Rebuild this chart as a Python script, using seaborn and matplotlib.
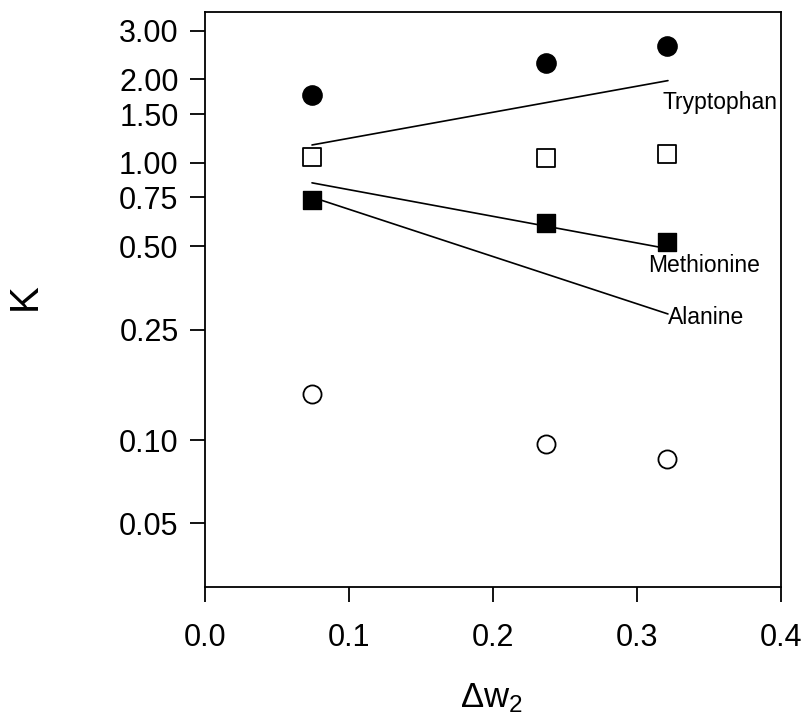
import matplotlib
matplotlib.use("Agg")
import matplotlib.pyplot as plt
import seaborn as sns
import pandas as pd
from matplotlib.ticker import FixedLocator, NullLocator, MultipleLocator

# ---- data ----
dw2 = [0.074, 0.237, 0.321]
k_trp_filled_circle = [1.76, 2.30, 2.63]
k_open_square = [1.05, 1.04, 1.08]
k_met_filled_square = [0.736, 0.608, 0.519]
k_open_circle = [0.146, 0.097, 0.0855]

trp_line_x = [0.0743, 0.3215]
trp_line_k = [1.16, 1.98]
met_line_x = [0.0743, 0.3215]
met_line_k = [0.847, 0.49]
ala_line_x = [0.075, 0.3215]
ala_line_k = [0.75, 0.285]

labels = ["Tryptophan", "Methionine", "Alanine"]
label_x = [0.318, 0.3076, 0.3215]
label_k = [1.65, 0.425, 0.276]

ytick_vals = [0.05, 0.10, 0.25, 0.50, 0.75, 1.00, 1.50, 2.00, 3.00]
xtick_vals = [0.0, 0.1, 0.2, 0.3, 0.4]

sns.set_style("white")
plt.rcParams["font.family"] = ["Liberation Sans", "DejaVu Sans"]
plt.rcParams["mathtext.fontset"] = "custom"
plt.rcParams["mathtext.rm"] = "Liberation Sans"
plt.rcParams["mathtext.it"] = "Liberation Sans"

fig = plt.figure(figsize=(8.03, 7.20), dpi=100)
ax = fig.add_axes([0.2553, 0.1847, 0.9726 - 0.2553, 0.9833 - 0.1847])

# lines
for lx, ly in [(trp_line_x, trp_line_k), (met_line_x, met_line_k), (ala_line_x, ala_line_k)]:
    sns.lineplot(x=lx, y=ly, ax=ax, color="black", linewidth=1.2, zorder=2)

# markers
sns.scatterplot(x=dw2, y=k_trp_filled_circle, ax=ax, marker="o", s=190,
                color="black", edgecolor="black", zorder=3)
sns.scatterplot(x=dw2, y=k_open_square, ax=ax, marker="s", s=150,
                facecolor="white", edgecolor="black", linewidth=1.3, zorder=3)
sns.scatterplot(x=dw2, y=k_met_filled_square, ax=ax, marker="s", s=150,
                color="black", edgecolor="black", zorder=3)
sns.scatterplot(x=dw2, y=k_open_circle, ax=ax, marker="o", s=170,
                facecolor="white", edgecolor="black", linewidth=1.3, zorder=3)

for t, tx, ty in zip(labels, label_x, label_k):
    ax.text(tx, ty, t, fontsize=16.5, ha="left", va="center", color="black")

ax.set_yscale("log")
ax.set_ylim(0.0295, 3.5)
ax.set_xlim(0.0, 0.4)
ax.yaxis.set_major_locator(FixedLocator(ytick_vals))
ax.yaxis.set_minor_locator(NullLocator())
ax.set_yticklabels([f"{v:.2f}" for v in ytick_vals])
ax.xaxis.set_major_locator(FixedLocator(xtick_vals))
ax.xaxis.set_minor_locator(MultipleLocator(0.05))
ax.set_xticklabels([f"{v:.1f}" for v in xtick_vals])

for s in ax.spines.values():
    s.set_visible(True)
    s.set_color("black")
    s.set_linewidth(1.3)

ax.tick_params(axis="both", which="major", direction="out", length=11, width=1.3,
               labelsize=22, color="black", labelcolor="black")
ax.tick_params(axis="y", which="major", pad=8)
ax.tick_params(axis="x", which="minor", direction="out", length=6, width=1.1, color="black")
ax.tick_params(axis="x", which="major", pad=15)
ax.tick_params(left=True, bottom=True, top=False, right=False)

ax.set_ylabel("")
ax.set_xlabel("")
fig.text(25 / 803, 1 - 297 / 720, "K", rotation=90, ha="center", va="center",
         fontsize=29, color="black")
fig.text(491 / 803, 1 - 707 / 720, r"$\Delta\mathregular{w}_\mathregular{2}$",
         ha="center", va="baseline", fontsize=25, color="black")

fig.savefig("out.png", dpi=100)
